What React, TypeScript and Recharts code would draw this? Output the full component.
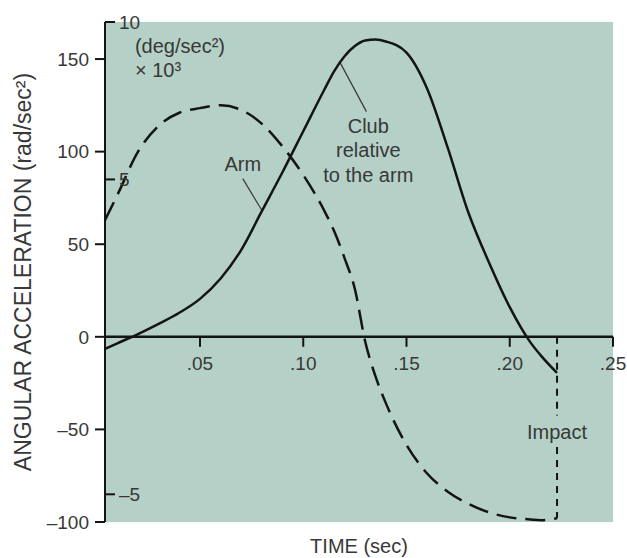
import React from 'react';
import {
  LineChart,
  Line,
  XAxis,
  YAxis,
  CartesianGrid,
  ReferenceLine,
  ReferenceDot
} from 'recharts';

// time (sec) and angular acceleration (rad/sec^2)
const timeSec = [
  0.004, 0.01, 0.02, 0.03, 0.04, 0.05, 0.06, 0.07, 0.08, 0.09, 0.1, 0.11, 0.115,
  0.12, 0.125, 0.13, 0.135, 0.14, 0.15, 0.16, 0.17, 0.18, 0.19, 0.2, 0.21, 0.215, 0.2229
];
const clubAccel = [
  -6.5, -3.5, 1.5, 7, 13, 20.5, 31.5, 47, 68, 89, 111, 133, 143.5,
  151.5, 157, 160, 160.5, 159.5, 153.5, 134, 102, 67, 40, 16, -3, -10, -19.5
];
const armAccel = [
  63, 76.6, 100, 114, 121, 123.5, 125, 122.5, 115, 102.7, 87.4, 68.5, 57,
  42.5, 25.8, -2.5, -21.4, -35.8, -58.4, -73.8, -83.6, -90.2, -94.8, -97.5, -98.6, -99, -98
];

const radTicks = [-100, -50, 0, 50, 100, 150];
const degTicks = [-5, 5, 10];
const timeTicks = [0.05, 0.1, 0.15, 0.2, 0.25];
const timeTickLabels = ['.05', '.10', '.15', '.20', '.25'];

const IMPACT_T = 0.2229;

const data = timeSec.map((t, i) => ({ t, club: clubAccel[i], arm: armAccel[i] }));

const INK = '#141414';
const TEXT = '#383838';
const BG = '#b5d0c6';
const FONT = '"Liberation Sans", Arial, Helvetica, sans-serif';

const dashFmt = (v: number) => (v < 0 ? `\u2013${Math.abs(v)}` : `${v}`);

const xTickShape = (label: string) => (props: any) => (
  <g>
    <line x1={props.cx} y1={props.cy} x2={props.cx} y2={props.cy + 10} stroke={INK} strokeWidth={2} />
    <text x={props.cx} y={props.cy + 33} textAnchor="middle" fontSize={19} fill={TEXT} fontFamily={FONT}>
      {label}
    </text>
  </g>
);

const noteShape = (lines: string[], anchor: 'start' | 'middle', gap = 24.5) => (props: any) => (
  <text x={props.cx} y={props.cy} textAnchor={anchor} fontSize={20} fill={TEXT} fontFamily={FONT}>
    {lines.map((s, i) => (
      <tspan key={i} x={props.cx} dy={i === 0 ? 0 : gap}>
        {s}
      </tspan>
    ))}
  </text>
);

const App: React.FC = () => {
  return (
    <div style={{ position: 'absolute', left: 0, top: 0, width: 627, height: 558, fontFamily: FONT }}>
      <LineChart width={627} height={558} data={data} margin={{ top: 22, right: 14, left: 0, bottom: 0 }}>
        <CartesianGrid fill={BG} fillOpacity={1} horizontal={false} vertical={false} />
        <XAxis
          type="number"
          dataKey="t"
          domain={[0.004, 0.25]}
          allowDataOverflow
          tick={false}
          tickLine={false}
          axisLine={false}
          height={36}
          label={{ value: 'TIME (sec)', position: 'insideBottom', offset: 5, style: { fontSize: 20, fill: TEXT } }}
        />
        <YAxis
          type="number"
          domain={[-100, 170]}
          allowDataOverflow
          ticks={radTicks}
          tickFormatter={dashFmt}
          width={105}
          tickSize={10}
          tickMargin={6}
          tick={{ fontSize: 19, fill: TEXT }}
          tickLine={{ stroke: INK, strokeWidth: 2 }}
          axisLine={{ stroke: INK, strokeWidth: 2 }}
          label={{
            value: 'ANGULAR ACCELERATION (rad/sec\u00b2)',
            angle: -90,
            position: 'insideLeft',
            offset: 23,
            style: { textAnchor: 'middle', fontSize: 23, fill: TEXT }
          }}
        />
        <YAxis
          yAxisId="deg"
          type="number"
          orientation="left"
          mirror
          domain={[-5.88, 10]}
          allowDataOverflow
          ticks={degTicks}
          tickFormatter={dashFmt}
          tickSize={10}
          tickMargin={4}
          tick={{ fontSize: 19, fill: TEXT }}
          tickLine={{ stroke: INK, strokeWidth: 2 }}
          axisLine={false}
        />
        {/* x axis drawn along zero */}
        <ReferenceLine y={0} stroke={INK} strokeWidth={2.5} />
        {timeTicks.map((t, i) => (
          <ReferenceDot key={t} x={t} y={0} shape={xTickShape(timeTickLabels[i])} />
        ))}
        {/* impact marker */}
        <ReferenceLine
          segment={[{ x: IMPACT_T, y: 0 }, { x: IMPACT_T, y: -42.5 }]}
          stroke={INK}
          strokeWidth={2}
          strokeDasharray="7 6"
        />
        <ReferenceLine
          segment={[{ x: IMPACT_T, y: -59.5 }, { x: IMPACT_T, y: -98 }]}
          stroke={INK}
          strokeWidth={2}
          strokeDasharray="7 6"
        />
        {/* leader lines */}
        <ReferenceLine segment={[{ x: 0.0707, y: 85.4 }, { x: 0.0798, y: 68.6 }]} stroke={TEXT} strokeWidth={1.2} />
        <ReferenceLine segment={[{ x: 0.1176, y: 148.6 }, { x: 0.1306, y: 121.6 }]} stroke={TEXT} strokeWidth={1.2} />
        <Line
          type="monotone"
          dataKey="arm"
          stroke={INK}
          strokeWidth={2.5}
          strokeDasharray="20 9"
          dot={false}
          isAnimationActive={false}
        />
        <Line
          type="monotone"
          dataKey="club"
          stroke={INK}
          strokeWidth={2.5}
          dot={false}
          isAnimationActive={false}
        />
        <ReferenceDot x={0.0185} y={153.5} shape={noteShape(['(deg/sec\u00b2)', '\u00d7 10\u00b3'], 'start', 24)} />
        <ReferenceDot x={0.0707} y={89.7} shape={noteShape(['Arm'], 'middle')} />
        <ReferenceDot x={0.1315} y={110.3} shape={noteShape(['Club', 'relative', 'to the arm'], 'middle')} />
        <ReferenceDot x={IMPACT_T} y={-55.1} shape={noteShape(['Impact'], 'middle')} />
      </LineChart>
    </div>
  );
};

export default App;
